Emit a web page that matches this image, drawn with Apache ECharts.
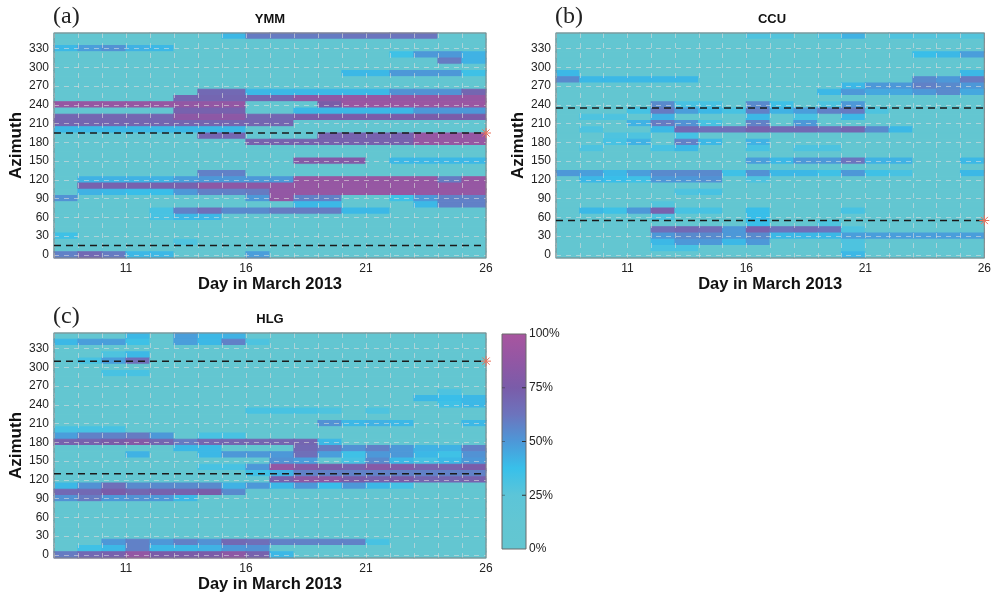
<!DOCTYPE html>
<html><head><meta charset="utf-8">
<script src="https://cdn.jsdelivr.net/npm/echarts@6/dist/echarts.min.js"></script>
<style>html,body{margin:0;padding:0;background:#fff}#c{width:994px;height:595px}</style>
</head><body><div id="c"></div><script>
// ---- data ----
const days = [8,9,10,11,12,13,14,15,16,17,18,19,20,21,22,23,24,25];
const azimuthBins = [350,340,330,320,310,300,290,280,270,260,250,240,230,220,210,200,190,180,170,160,150,140,130,120,110,100,90,80,70,60,50,40,30,20,10,0];
const azimuthTicks = [0,30,60,90,120,150,180,210,240,270,300,330];
const dayTicks = [11,16,21,26];
const dayRange = [8,26];
const azimuthRange = [-5,355];
const colorbarRange = [0,100];
const colorbarTicks = [25,50,75];
const stationNames = ['YMM','CCU','HLG'];
const panelLetters = ['(a)','(b)','(c)'];
const ymmRefLines = [195,15], ymmStar = 195;
const ccuRefLines = [235,55], ccuStar = 55;
const hlgRefLines = [310,130], hlgStar = 310;
const cbColors = ['#63c6d1','#62c6d3','#5cc5d8','#38c0ea','#4d98d8','#6c74bd','#7a5ca9','#9257a4','#a8559f'];

// percent of time per (azimuth bin, day); rows 350 -> 0, columns day 8 -> 25
const ymm = [
[0,0,0,0,0,0,0,40,60,60,60,60,62,62,62,62,0,0],
[0,0,0,0,0,0,0,0,0,0,0,0,0,0,0,0,0,0],
[40,48,52,42,40,0,0,0,0,0,0,0,0,0,0,0,0,0],
[0,0,0,0,0,0,0,0,0,0,0,0,0,0,35,50,50,42],
[0,0,0,0,0,0,0,0,0,0,0,0,0,0,0,0,60,42],
[0,0,0,0,0,0,0,0,0,0,0,0,0,0,0,0,0,0],
[0,0,0,0,0,0,0,0,0,0,0,0,40,40,50,50,50,35],
[0,0,0,0,0,0,0,0,0,0,0,0,0,0,0,0,0,0],
[0,0,0,0,0,0,0,0,0,0,0,0,0,0,0,0,0,0],
[0,0,0,0,0,0,68,68,40,40,40,40,40,40,52,52,52,70],
[0,0,0,0,0,70,70,70,70,70,85,85,90,90,90,90,90,90],
[90,90,90,90,90,88,88,88,0,0,0,75,92,92,92,92,92,92],
[0,0,0,0,0,72,72,72,0,0,40,40,40,40,40,50,50,50],
[70,70,70,70,70,85,85,85,70,70,75,75,75,75,75,75,75,75],
[70,70,70,70,70,70,70,70,70,70,0,0,0,0,0,0,0,0],
[40,40,40,40,40,40,40,40,0,0,0,0,0,0,0,0,0,0],
[0,0,0,0,0,0,70,70,0,0,0,72,72,72,72,90,90,90],
[0,0,0,0,0,0,0,0,72,72,72,72,72,72,72,90,90,90],
[0,0,0,0,0,0,0,0,0,0,0,0,0,0,0,0,0,0],
[0,0,0,0,0,0,0,0,0,0,0,0,0,0,0,0,0,0],
[0,0,0,0,0,0,0,0,0,0,80,80,80,0,40,40,40,40],
[0,0,0,0,0,0,0,0,0,0,0,0,0,0,0,0,0,0],
[0,0,0,0,0,0,58,58,0,0,0,0,0,0,0,0,0,0],
[0,42,42,42,42,48,50,50,50,50,90,90,90,90,90,90,60,90],
[0,72,72,72,72,72,85,85,85,88,90,90,90,90,90,90,90,90],
[0,42,40,38,38,50,58,58,60,88,90,90,90,90,90,90,90,90],
[52,0,0,0,0,0,0,0,50,88,58,58,0,0,35,50,58,58],
[0,0,0,0,0,0,0,0,0,0,40,40,0,0,0,40,58,58],
[0,0,0,0,32,58,65,55,55,60,60,60,40,40,0,0,0,0],
[0,0,0,0,32,40,40,0,0,0,0,0,0,0,0,0,0,0],
[0,0,0,0,0,0,0,0,0,0,0,0,0,0,0,0,0,0],
[0,0,0,0,0,0,0,0,0,0,0,0,0,0,0,0,0,0],
[35,0,0,0,0,0,0,0,0,0,0,0,0,0,0,0,0,0],
[0,0,0,0,0,30,0,0,0,0,0,0,0,0,0,0,0,0],
[0,0,0,0,0,0,0,0,0,0,0,0,0,0,0,0,0,0],
[58,68,60,40,40,0,0,0,48,0,0,0,0,0,0,0,0,0]
];
const ccu = [
[0,0,0,0,0,0,0,0,30,28,0,30,42,0,30,28,28,28],
[0,0,0,0,0,0,0,0,0,0,0,0,0,0,0,0,0,0],
[0,0,0,0,0,0,0,0,0,0,0,0,0,0,0,0,0,0],
[0,0,0,0,0,0,0,0,0,0,0,0,0,0,0,38,40,48],
[0,0,0,0,0,0,0,0,0,0,0,0,0,0,0,0,0,0],
[0,0,0,0,0,0,0,0,0,0,0,0,0,0,0,0,0,0],
[40,0,0,0,0,0,0,0,0,0,0,0,0,0,0,0,0,40],
[55,40,40,40,40,40,0,0,0,0,0,0,0,0,0,55,50,60],
[0,0,0,0,0,0,0,0,0,0,0,0,40,50,50,58,55,50],
[0,0,0,0,0,0,0,0,0,0,0,40,50,45,45,50,55,45],
[0,0,0,0,0,0,0,0,0,0,0,0,0,0,0,0,0,0],
[0,0,0,0,55,32,32,0,55,35,0,30,50,0,0,0,0,0],
[0,0,0,33,60,48,40,32,58,42,48,58,60,30,0,0,0,0],
[0,30,30,0,42,0,0,0,40,0,32,0,40,0,0,0,0,0],
[0,0,0,42,60,52,32,0,58,0,50,0,0,0,0,0,0,0],
[0,30,0,0,40,68,65,65,72,68,68,65,70,55,40,0,0,0],
[0,0,30,30,0,33,0,0,0,0,0,0,0,0,0,0,0,0],
[0,0,32,42,0,58,40,0,42,0,0,0,0,0,0,0,0,0],
[0,30,0,0,32,40,0,0,32,0,30,30,0,0,0,0,0,0],
[0,0,0,0,0,0,0,0,0,0,0,0,0,0,0,0,0,0],
[0,0,0,0,0,0,0,0,48,40,50,50,62,42,42,0,0,40],
[0,0,0,0,0,0,0,0,0,0,0,0,0,0,0,0,0,0],
[50,48,40,48,55,55,55,35,52,40,40,35,50,35,32,0,0,40],
[0,40,38,35,50,50,52,0,30,0,0,0,0,0,0,0,0,0],
[0,0,0,0,0,0,0,0,0,0,0,0,0,0,0,0,0,0],
[0,0,0,0,0,30,32,0,0,0,0,0,0,0,0,0,0,0],
[0,0,0,0,0,0,0,0,0,0,0,0,0,0,0,0,0,0],
[0,0,0,0,28,0,0,0,0,0,0,0,0,0,0,0,0,0],
[0,40,35,50,72,32,32,0,38,0,0,0,32,0,0,0,0,0],
[0,0,0,0,30,0,0,0,38,0,0,0,0,0,0,0,0,0],
[0,0,0,0,0,0,0,0,38,0,0,30,0,0,0,0,0,0],
[0,0,0,0,65,68,65,50,72,62,65,62,30,0,0,0,0,0],
[0,0,0,0,50,55,55,50,55,40,40,40,48,48,48,48,48,48],
[0,0,0,0,40,50,50,40,50,0,0,0,30,0,0,0,0,0],
[0,0,0,0,32,32,0,0,0,0,0,0,30,0,0,0,0,0],
[0,0,0,0,0,0,0,0,0,0,0,0,40,0,0,0,0,0]
];
const hlg = [
[0,0,0,40,0,48,40,42,0,0,0,0,0,0,0,0,0,0],
[40,48,48,35,0,48,40,58,30,0,0,0,0,0,0,0,0,0],
[0,0,0,0,0,0,0,0,0,0,0,0,0,0,0,0,0,0],
[0,0,30,40,0,0,0,0,0,0,0,0,0,0,0,0,0,0],
[0,32,48,65,0,0,0,0,0,0,0,0,0,0,0,0,0,0],
[0,0,0,0,0,0,0,0,0,0,0,0,0,0,0,0,0,0],
[0,0,32,32,0,0,0,0,0,0,0,0,0,0,0,0,0,0],
[0,0,0,0,0,0,0,0,0,0,0,0,0,0,0,0,0,0],
[0,0,0,0,0,0,0,0,0,0,0,0,0,0,0,0,0,0],
[0,0,0,0,0,0,0,0,0,0,0,0,0,0,0,0,30,0],
[0,0,0,0,0,0,0,0,0,0,0,0,0,0,0,40,38,40],
[0,0,0,0,0,0,0,0,0,0,0,0,0,0,0,0,35,40],
[0,0,0,0,0,0,0,0,32,32,32,30,0,30,0,0,0,0],
[0,0,0,0,0,0,0,0,0,0,0,0,0,0,0,0,0,0],
[0,0,0,0,0,0,0,0,0,0,0,52,40,42,40,0,0,40],
[32,32,32,0,0,0,0,0,0,0,0,0,0,0,0,0,0,0],
[48,58,58,60,50,0,32,32,0,0,0,0,0,0,0,0,0,0],
[72,72,75,80,70,60,70,70,70,70,70,40,0,0,0,0,0,0],
[0,0,0,0,0,40,40,0,0,0,68,60,52,58,50,42,42,58],
[0,0,0,42,0,0,40,50,50,50,65,48,35,50,50,40,35,52],
[0,0,0,0,0,0,0,0,0,52,48,0,32,55,40,32,40,50],
[0,0,0,0,0,0,32,32,50,88,80,75,72,82,78,72,72,75],
[0,0,0,0,0,0,0,0,35,42,58,58,58,58,58,58,58,58],
[0,0,0,0,0,0,0,0,0,72,85,85,75,72,75,70,70,72],
[40,52,65,55,55,55,55,42,50,40,50,38,50,40,33,0,0,0],
[68,68,75,70,72,72,75,55,0,0,0,0,0,0,0,0,0,0],
[52,60,50,52,50,40,0,0,0,0,0,0,0,0,0,0,0,0],
[0,0,0,0,0,0,0,0,0,0,0,0,0,0,0,0,0,0],
[0,0,0,0,0,0,0,0,0,0,0,0,0,0,0,0,0,0],
[0,0,0,0,0,0,0,0,0,0,0,0,0,0,0,0,0,0],
[0,0,0,0,0,0,0,0,0,0,0,0,0,0,0,0,0,0],
[0,0,0,0,0,0,0,0,0,0,0,0,0,0,0,0,0,0],
[0,0,0,0,0,0,0,0,0,0,0,0,0,0,0,0,0,0],
[0,0,50,58,50,58,52,68,65,58,58,58,58,32,0,0,0,0],
[0,35,40,58,40,40,42,50,52,0,0,0,0,0,0,0,0,0],
[60,68,72,88,75,75,75,85,72,40,0,0,0,0,0,0,0,0]
];

// ---- chart ----
const FONT = "'Liberation Sans', Arial, sans-serif";
const matrices = [ymm, ccu, hlg];
const refLines = [ymmRefLines, ccuRefLines, hlgRefLines];
const stars = [ymmStar, ccuStar, hlgStar];
const gridPos = [{left:54,top:33},{left:556,top:33},{left:54,top:333}];
const PW = 432, PH = 225;
const binHalf = 5, dayStep = 1;
const gridLineStyle = {type:[5,5], color:'rgba(220,220,220,0.6)', width:1};

function cells(m){ const out=[]; m.forEach((row,i)=>row.forEach((v,j)=>out.push([days[j], azimuthBins[i], v]))); return out; }
function renderCell(params, api){
  const d = api.value(0), a = api.value(1);
  const p0 = api.coord([d, a - binHalf]);
  const p1 = api.coord([d + dayStep, a + binHalf]);
  const c = api.visual('color');
  return {type:'rect', shape:{x:p0[0], y:p1[1], width:p1[0]-p0[0], height:p0[1]-p1[1]}, style:{fill:c, stroke:c, lineWidth:1.2}};
}
function renderStar(params, api){
  const p = api.coord([api.value(0), api.value(1)]);
  const r = 5, q = 3.6;
  const segs = [[r,0],[0,r],[q,q],[q,-q]];
  return {type:'group', children: segs.map(s=>({type:'line', shape:{x1:p[0]-s[0],y1:p[1]-s[1],x2:p[0]+s[0],y2:p[1]+s[1]}, style:{stroke:'#e8735c', lineWidth:1}}))};
}
function renderBar(params, api){
  const p0 = api.coord([0, api.value(1)]);
  const p1 = api.coord([1, api.value(2)]);
  const stops = cbColors.map((c,i)=>({offset:i/(cbColors.length-1), color:c}));
  return {type:'rect', shape:{x:p0[0], y:p1[1], width:p1[0]-p0[0], height:p0[1]-p1[1]},
    style:{fill:new echarts.graphic.LinearGradient(0,1,0,0,stops)}};
}
function renderBarTick(params, api){
  const r = api.coord([1, api.value(0)]);
  const l = api.coord([0, api.value(0)]);
  return {type:'group', children:[
    {type:'line', shape:{x1:r[0]-4, y1:r[1], x2:r[0], y2:r[1]}, style:{stroke:'#333', lineWidth:1}},
    {type:'line', shape:{x1:l[0], y1:l[1], x2:l[0]+3, y2:l[1]}, style:{stroke:'rgba(60,60,60,0.5)', lineWidth:1}}
  ]};
}

const grids=[], xAxes=[], yAxes=[], series=[], titles=[];
gridPos.forEach((g,i)=>{
  grids.push({left:g.left, top:g.top, width:PW, height:PH, show:true, borderColor:'#858585', borderWidth:1, backgroundColor:'transparent', z:6});
  xAxes.push({gridIndex:i, type:'value', min:dayRange[0], max:dayRange[1], interval:1, z:5,
    axisLine:{show:false}, axisTick:{show:false},
    axisLabel:{customValues:dayTicks, fontSize:12, color:'#222', margin:5, fontFamily:FONT},
    splitLine:{show:true, lineStyle:gridLineStyle},
    name:'Day in March 2013', nameLocation:'middle', nameGap:15,
    nameTextStyle:{fontSize:16.5, fontWeight:'bold', color:'#111', fontFamily:FONT, verticalAlign:'top'}});
  yAxes.push({gridIndex:i, type:'value', min:azimuthRange[0], max:azimuthRange[1], z:5,
    axisLine:{show:false}, axisTick:{show:false, customValues:azimuthTicks},
    axisLabel:{customValues:azimuthTicks, fontSize:12, color:'#222', margin:5, fontFamily:FONT},
    splitLine:{show:true, lineStyle:gridLineStyle},
    name:'Azimuth', nameLocation:'middle', nameGap:25,
    nameTextStyle:{fontSize:17, fontWeight:'bold', color:'#111', fontFamily:FONT}});
  series.push({type:'custom', name:stationNames[i], xAxisIndex:i, yAxisIndex:i, z:2,
    renderItem:renderCell, data:cells(matrices[i]), encode:{x:0,y:1}});
  titles.push({text:panelLetters[i], left:g.left-1, top:g.top-28, padding:0,
    textStyle:{fontFamily:"'Liberation Serif', 'Times New Roman', serif", fontSize:24, fontWeight:'normal', color:'#222'}});
  titles.push({text:stationNames[i], left:g.left+PW/2, top:g.top-20, textAlign:'center', padding:0,
    textStyle:{fontFamily:FONT, fontSize:13, fontWeight:'bold', color:'#111'}});
});
// reference lines and stars
refLines.forEach((vals,i)=>{
  vals.forEach(v=>{
    series.push({type:'line', xAxisIndex:i, yAxisIndex:i, z:8, symbol:'none', silent:true,
      data:[[dayRange[0], v],[dayRange[1], v]], lineStyle:{color:'#1a1a1a', width:1.5, type:[7,5]}});
  });
  series.push({type:'custom', xAxisIndex:i, yAxisIndex:i, z:9, renderItem:renderStar, clip:false,
    data:[[dayRange[1], stars[i]]]});
});
// colorbar
grids.push({left:502, top:334, width:24, height:215, show:true, borderColor:'#6a6a6a', borderWidth:1, backgroundColor:'transparent', z:6});
xAxes.push({gridIndex:3, type:'value', min:0, max:1, show:false});
yAxes.push({gridIndex:3, type:'value', position:'right', min:colorbarRange[0], max:colorbarRange[1], interval:25, z:7,
  axisLine:{show:false}, axisTick:{show:false},
  axisLabel:{formatter:'{value}%', fontSize:12, color:'#222', margin:3, fontFamily:FONT},
  splitLine:{show:false}});
series.push({type:'custom', xAxisIndex:3, yAxisIndex:3, z:2, renderItem:renderBar, data:[[0, colorbarRange[0], colorbarRange[1]]]});
series.push({type:'custom', xAxisIndex:3, yAxisIndex:3, z:7, renderItem:renderBarTick, data:colorbarTicks.map(v=>[v])});

const chart = echarts.init(document.getElementById('c'), null, {renderer:'canvas'});
chart.setOption({
  animation:false,
  backgroundColor:'#ffffff',
  title:titles,
  grid:grids, xAxis:xAxes, yAxis:yAxes,
  visualMap:{type:'continuous', show:false, min:colorbarRange[0], max:colorbarRange[1], dimension:2, seriesIndex:[0,1,2], inRange:{color:cbColors}},
  series:series
});
</script></body></html>
